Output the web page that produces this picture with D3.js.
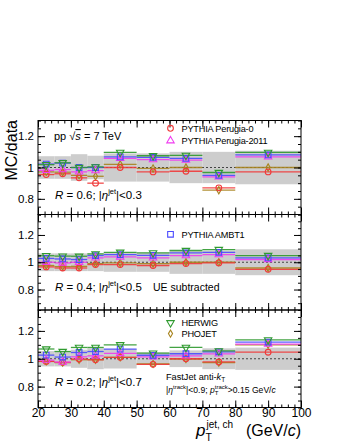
<!DOCTYPE html>
<html><head><meta charset="utf-8">
<script src="https://cdn.jsdelivr.net/npm/d3@7"></script>
<style>
html,body{margin:0;padding:0;background:#fff;}
svg{display:block;font-family:"Liberation Sans",Arial,Helvetica,sans-serif;}
</style></head>
<body><svg id="c" width="342" height="442"></svg>
<script>
// ---- data ----
const binLo = [20,25,30,35,40,50,60,70,80];
const binHi = [25,30,35,40,50,60,70,80,100];
const xTicks = [20,30,40,50,60,70,80,90,100];
const yTicks = [0.8,1,1.2];
const seriesNames = ["PYTHIA Perugia-0","PYTHIA Perugia-2011","PYTHIA AMBT1","HERWIG","PHOJET"];

// R = 0.6
const p0_R06     = [0.955,0.960,0.934,0.900,1.000,0.972,0.976,0.870,0.972];
const p2011_R06  = [0.982,0.987,0.972,0.980,1.058,1.050,1.047,0.940,1.068];
const ambt1_R06  = [1.022,1.028,1.000,1.000,1.068,1.064,1.058,0.950,1.080];
const herwig_R06 = [1.018,1.030,1.000,1.004,1.096,1.075,1.077,0.968,1.096];
const phojet_R06 = [0.972,0.970,0.950,0.944,1.020,0.994,1.000,0.855,1.000];
const sys_R06    = [0.072,0.072,0.085,0.075,0.090,0.090,0.100,0.100,0.107];
// R = 0.4
const p0_R04     = [0.966,0.958,0.958,0.983,0.983,0.976,0.990,0.995,0.948];
const p2011_R04  = [1.000,0.995,1.000,1.032,1.039,1.032,1.049,1.056,1.020];
const ambt1_R04  = [1.028,1.024,1.020,1.049,1.056,1.051,1.068,1.073,1.032];
const herwig_R04 = [1.048,1.045,1.044,1.061,1.073,1.068,1.086,1.093,1.049];
const phojet_R04 = [0.976,0.968,0.970,0.990,0.995,0.990,1.000,1.000,0.958];
const sys_R04    = [0.065,0.065,0.065,0.065,0.070,0.070,0.085,0.085,0.095];
// R = 0.2
const p0_R02     = [0.981,0.974,0.998,0.993,1.010,0.960,1.000,0.977,1.047];
const p2011_R02  = [0.990,0.976,1.014,1.021,1.038,1.014,1.021,1.035,1.105];
const ambt1_R02  = [1.026,1.012,1.045,1.052,1.069,1.025,1.036,1.050,1.120];
const herwig_R02 = [1.070,1.052,1.081,1.081,1.100,1.040,1.081,1.056,1.135];
const phojet_R02 = [0.981,0.972,0.993,0.993,1.010,0.963,0.998,0.972,1.100];
const sys_R02    = [0.055,0.055,0.065,0.075,0.070,0.045,0.060,0.075,0.080];

// ---- styles ----
const colors = ["#f03a3a","#f03cf0","#4b4bff","#2f9a2f","#a8841e"];
const symbols = ["circle","triangle","square","triangleDown","diamond"];

const svg = d3.select("#c");
const L = 38, R = 301;
const x = d3.scaleLinear().domain([20,100]).range([L,R]);

const panels = [
  {top:120.5, bottom:214.5, dom:[0.7,1.3], sys:sys_R06, vals:[p0_R06,p2011_R06,ambt1_R06,herwig_R06,phojet_R06]},
  {top:214.5, bottom:310,   dom:[0.65,1.35], sys:sys_R04, vals:[p0_R04,p2011_R04,ambt1_R04,herwig_R04,phojet_R04]},
  {top:310,   bottom:407.5, dom:[0.65,1.35], sys:sys_R02, vals:[p0_R02,p2011_R02,ambt1_R02,herwig_R02,phojet_R02]}
];

function symPath(kind){
  if(kind==="circle") return d3.symbol(d3.symbolCircle, 26)();
  if(kind==="square") return d3.symbol(d3.symbolSquare, 32)();
  if(kind==="triangle"||kind==="triangleDown") return d3.symbol(d3.symbolTriangle, 24)();
  if(kind==="diamond") return d3.symbol(d3.symbolDiamond, 15)();
}
function marker(g, kind, cx, cy, col){
  g.append("path").attr("d", symPath(kind))
   .attr("transform", `translate(${cx},${cy})` + (kind==="triangleDown"?" rotate(180)":""))
   .attr("fill","none").attr("stroke",col).attr("stroke-width",1.1);
}

const xMinor = d3.range(20,101,2);

panels.forEach((p,pi)=>{
  const y = d3.scaleLinear().domain(p.dom).range([p.bottom,p.top]);
  p.y = y;
  const g = svg.append("g");
  // systematic bands
  g.selectAll("rect.sys").data(p.sys).join("rect")
    .attr("x",(d,i)=>x(binLo[i])).attr("width",(d,i)=>x(binHi[i])-x(binLo[i]))
    .attr("y",d=>y(1+d)).attr("height",d=>y(1-d)-y(1+d))
    .attr("fill","#cdcdcd");
  // dotted unity line
  g.append("line").attr("x1",x(20)).attr("x2",x(100)).attr("y1",y(1)).attr("y2",y(1))
    .attr("stroke","#444").attr("stroke-width",1).attr("stroke-dasharray","2,2");
  // series
  const order = [4,0,1,2,3];
  order.forEach(si=>{
    const vals = p.vals[si];
    g.selectAll(null).data(vals).join("line")
      .attr("x1",(d,i)=>x(binLo[i])).attr("x2",(d,i)=>x(binHi[i]))
      .attr("y1",d=>y(d)).attr("y2",d=>y(d))
      .attr("stroke",colors[si]).attr("stroke-width",1.3).attr("opacity",0.9);
  });
  order.forEach(si=>{
    p.vals[si].forEach((v,i)=>marker(g, symbols[si], x((binLo[i]+binHi[i])/2), y(v), colors[si]));
  });
  // frame ticks
  const ax = svg.append("g");
  ax.append("g").attr("transform",`translate(0,${p.bottom})`)
    .call(d3.axisTop(x).tickValues(xMinor).tickSize(3).tickFormat(""));
  ax.append("g").attr("transform",`translate(0,${p.bottom})`)
    .call(d3.axisTop(x).tickValues(xTicks).tickSize(7).tickFormat(""));
  ax.append("g").attr("transform",`translate(0,${p.top})`)
    .call(d3.axisBottom(x).tickValues(xMinor).tickSize(3).tickFormat(""));
  ax.append("g").attr("transform",`translate(0,${p.top})`)
    .call(d3.axisBottom(x).tickValues(xTicks).tickSize(7).tickFormat(""));
  const yMinor = d3.range(Math.ceil(p.dom[0]/0.05)*0.05, p.dom[1]+1e-9, 0.05);
  ax.append("g").attr("transform",`translate(${L},0)`)
    .call(d3.axisRight(y).tickValues(yMinor).tickSize(3).tickFormat(""));
  ax.append("g").attr("transform",`translate(${L},0)`)
    .call(d3.axisRight(y).tickValues(yTicks).tickSize(7).tickFormat(""));
  ax.append("g").attr("transform",`translate(${R},0)`)
    .call(d3.axisLeft(y).tickValues(yMinor).tickSize(3).tickFormat(""));
  ax.append("g").attr("transform",`translate(${R},0)`)
    .call(d3.axisLeft(y).tickValues(yTicks).tickSize(7).tickFormat(""));
  // labels
  const lab = svg.append("g").attr("transform",`translate(${L},0)`)
    .call(d3.axisLeft(y).tickValues(yTicks).tickSize(0).tickPadding(4)
      .tickFormat(d=>d===1?"1":d3.format(".1f")(d)));
  lab.select(".domain").remove();
  lab.selectAll("text").attr("font-size",11.5).attr("font-family","Liberation Sans, Arial");
  // frame
  svg.append("rect").attr("x",L).attr("y",p.top).attr("width",R-L).attr("height",p.bottom-p.top)
    .attr("fill","none").attr("stroke","#000").attr("stroke-width",1);
});
svg.selectAll(".domain").attr("stroke","none");
svg.selectAll(".tick line").attr("stroke","#000");

// x tick labels
const xl = svg.append("g").attr("transform",`translate(0,${panels[2].bottom})`)
  .call(d3.axisBottom(x).tickValues(xTicks).tickSize(0).tickPadding(1));
xl.select(".domain").remove();
xl.selectAll("text").attr("font-size",12).attr("font-family","Liberation Sans, Arial");

// axis titles
svg.append("text").attr("transform","translate(17,120) rotate(-90)")
  .attr("text-anchor","end").attr("font-size",16).text("MC/data");
svg.append("text").attr("x",196).attr("y",436).attr("font-size",17).attr("font-style","italic").text("p");
svg.append("text").attr("x",206.5).attr("y",428).attr("font-size",10).text("jet, ch");
svg.append("text").attr("x",205.5).attr("y",441).attr("font-size",10.5).text("T");
const gt = svg.append("text").attr("x",301).attr("y",436).attr("text-anchor","end").attr("font-size",16);
gt.append("tspan").text("(GeV/");
gt.append("tspan").attr("font-style","italic").text("c");
gt.append("tspan").text(")");

// panel 1 annotations
const pp = svg.append("text").attr("x",54).attr("y",140).attr("font-size",11);
pp.append("tspan").text("pp ");
pp.append("tspan").text("\u221A");
pp.append("tspan").attr("font-style","italic").attr("text-decoration","overline").text("s");
pp.append("tspan").text(" = 7 TeV");

function rLabel(yb, r, eta){
  const t = svg.append("text").attr("x",55).attr("y",yb).attr("font-size",11.5);
  t.append("tspan").attr("font-style","italic").text("R");
  t.append("tspan").text(" = "+r+"; |");
  t.append("tspan").attr("font-style","italic").text("\u03B7");
  t.append("tspan").attr("dy",-5).attr("font-size",7.5).text("jet");
  t.append("tspan").attr("dy",5).text("|<"+eta);
}
rLabel(199,"0.6","0.3");
rLabel(291,"0.4","0.5");
rLabel(386,"0.2","0.7");

svg.append("text").attr("x",153).attr("y",291).attr("font-size",10.5).text("UE subtracted");

// legends
function legend(si, cy){
  marker(svg, symbols[si], 170.5, cy, colors[si]);
  svg.append("text").attr("x",181.5).attr("y",cy+3.3).attr("font-size",9.2)
    .attr("letter-spacing",-0.2).text(seriesNames[si]);
}
legend(0,128.3); legend(1,140.7); legend(2,234.3); legend(3,322.8); legend(4,333.6);

// panel 3 jet definition
const fj = svg.append("text").attr("x",166).attr("y",380).attr("font-size",9.2);
fj.append("tspan").text("FastJet anti-");
fj.append("tspan").attr("font-style","italic").text("k");
fj.append("tspan").attr("dy",2).attr("font-size",6.5).text("T");
const tr = svg.append("text").attr("x",166).attr("y",393).attr("font-size",8.6);
tr.append("tspan").text("|");
tr.append("tspan").attr("font-style","italic").text("\u03B7");
tr.append("tspan").attr("dy",-4).attr("font-size",6).text("track");
tr.append("tspan").attr("dy",4).text("|<0.9;  ");
tr.append("tspan").attr("font-style","italic").text("p");
tr.append("tspan").attr("dy",2).attr("font-size",6).text("T");
tr.append("tspan").attr("dy",-6).attr("dx",-3.7).attr("font-size",6).text("track");
tr.append("tspan").attr("dy",4).text(">0.15 GeV/");
tr.append("tspan").attr("font-style","italic").text("c");
</script></body></html>
